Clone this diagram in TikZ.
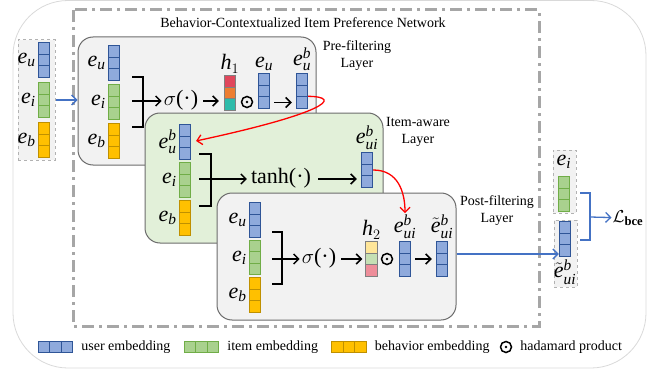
\documentclass[tikz,border=0pt]{standalone}
\usepackage{amsmath, amssymb}
\usepackage{fontspec}
\setmainfont{Liberation Serif}
\usepackage{xcolor}
\usepackage{tikz}
\usetikzlibrary{arrows.meta, positioning}

\definecolor{ublue}{HTML}{8FAADC}
\definecolor{ubluedk}{HTML}{2F5597}
\definecolor{igreen}{HTML}{A9D18E}
\definecolor{igreendk}{HTML}{70AD47}
\definecolor{borange}{HTML}{FFC000}
\definecolor{borangedk}{HTML}{BF9000}
\definecolor{hred}{HTML}{E0475C}
\definecolor{horange}{HTML}{ED7D31}
\definecolor{hteal}{HTML}{2EBBAA}
\definecolor{hyellow}{HTML}{FFE699}
\definecolor{hgreen}{HTML}{C5E0B4}
\definecolor{hpink}{HTML}{EE8E9A}
\definecolor{boxgray}{HTML}{F2F2F2}
\definecolor{boxgreen}{HTML}{E2F0D9}
\definecolor{linkblue}{HTML}{4472C4}

% one embedding column: name, x, y of middle cell, colour style
\newcommand{\embcol}[4]{%
  \foreach \k in {1,2,3}
    \node[cell,#4] (#1-\k) at (#2,{#3+(\k-2)*11.5}) {};}
% one embedding row for the legend
\newcommand{\embrow}[4]{%
  \foreach \k in {1,2,3}
    \node[cell,#4] (#1-\k) at ({#2+(\k-2)*11.5},#3) {};}
% embedding symbols in the serif italic
\newcommand{\ee}{\mathit{e}}
\newcommand{\te}{\tilde{\mathit{e}}}
\newcommand{\ix}[1]{\mathit{#1}}

\begin{document}
\begin{tikzpicture}[x=1pt, y=-1pt,
  cell/.style={draw, line width=0.9pt, minimum size=11.5pt, inner sep=0pt},
  ucol/.style={fill=ublue, draw=ubluedk},
  icol/.style={fill=igreen, draw=igreendk},
  bcol/.style={fill=borange, draw=borangedk},
  hcell/.style={cell, draw=gray},
  elab/.style={font=\fontsize{22}{24}\selectfont, inner sep=0pt},
  oplab/.style={font=\fontsize{22}{24}\selectfont, inner sep=1pt},
  losslab/.style={font=\fontsize{18}{20}\selectfont, inner sep=1pt},
  txt/.style={font=\fontsize{14}{17}\selectfont, align=center, inner sep=0pt},
  layerbox/.style={draw=gray!85!black, line width=1pt, rounded corners=15pt, fill=boxgray},
  embbox/.style={draw=gray!60, dashed, line width=1pt, fill=boxgray},
  arr/.style={line width=1.5pt, -{Straight Barb[length=5pt, width=10pt]}},
  brk/.style={line width=1.5pt},
  redarr/.style={red, line width=1.3pt, -{Straight Barb[length=5pt, width=10pt]}},
  bluearr/.style={linkblue, line width=1.3pt, -{Straight Barb[length=5pt, width=10pt]}},
  hprod/.style={circle, draw, line width=1.5pt, minimum size=11pt, inner sep=0pt,
    path picture={\fill (path picture bounding box.center) circle (1.4pt);}},
]
\useasboundingbox (0,0) rectangle (667,369);

% frames
\draw[gray!30, line width=0.8pt, rounded corners=55pt] (13,0.5) rectangle (646,368);
\draw[black!35, line width=3pt, dash pattern=on 12pt off 5pt on 3pt off 5pt] (73,10) rectangle (539,326);
\node[txt] (title) at (303,23) {Behavior-Contextualized Item Preference Network};

% input embeddings
\node[embbox, minimum width=37pt, minimum height=120pt] (inbox) at (36.5,100) {};
\embcol{in-u}{44}{60}{ucol}
\embcol{in-i}{44}{100}{icol}
\embcol{in-b}{44}{140}{bcol}
\node[elab, left=2pt of in-u-2] (in-eu) {$\ee_{\ix{u}}$};
\node[elab, left=2pt of in-i-2] (in-ei) {$\ee_{\ix{i}}$};
\node[elab, left=2pt of in-b-2] (in-eb) {$\ee_{\ix{b}}$};

% pre-filtering layer
\node[layerbox, minimum width=238pt, minimum height=128pt] (pre) at (197,101) {};
\node[txt] (pre-lbl) at (357,56) {Pre-filtering\\Layer};
\draw[bluearr] (inbox.east) -- (inbox.east -| pre.west);
\embcol{pre-u}{114}{63}{ucol}
\embcol{pre-i}{114}{102}{icol}
\embcol{pre-b}{114}{141}{bcol}
\node[elab, left=2pt of pre-u-2] (pre-eu) {$\ee_{\ix{u}}$};
\node[elab, left=2pt of pre-i-2] (pre-ei) {$\ee_{\ix{i}}$};
\node[elab, left=2pt of pre-b-2] (pre-eb) {$\ee_{\ix{b}}$};
\draw[brk] (132,77) -| (143,127) -- (132,127);
\coordinate (pre-join) at (132,101);
\node[oplab] (pre-sig) at (181,100) {$\sigma$(·)};
\draw[arr, shorten >=1pt] (pre-join) -- (pre-join -| pre-sig.west);
\foreach \k/\c in {1/hred,2/horange,3/hteal}
  \node[hcell, fill=\c] (h1-\k) at (230,{93+(\k-2)*11.5}) {};
\node[elab, above=2pt of h1-1] (h1-lbl) {$\ix{h}_1$};
\draw[arr, shorten <=4pt, shorten >=5pt] (pre-join -| pre-sig.east) -- (pre-join -| h1-3.west);
\node[hprod] (pre-had) at (247,102) {};
\embcol{pre-m}{264}{91}{ucol}
\node[elab, above=2pt of pre-m-1] (pre-m-lbl) {$\ee_{\ix{u}}$};
\embcol{pre-ub}{302}{91}{ucol}
\node[elab, above=2pt of pre-ub-1] (pre-ub-lbl) {$\ee_{\ix{u}}^{\ix{b}}$};
\draw[arr, shorten <=4pt, shorten >=4pt] (pre-m-3.east) -- (pre-ub-3.west);

% item-aware layer
\node[layerbox, fill=boxgreen, minimum width=238pt, minimum height=130pt] (item) at (264,178) {};
\node[txt] (item-lbl) at (418,132) {Item-aware\\Layer};
\embcol{it-ub}{185}{142}{ucol}
\embcol{it-i}{185}{180}{icol}
\embcol{it-b}{185}{218}{bcol}
\node[elab, left=2pt of it-ub-2] (it-eub) {$\ee_{\ix{u}}^{\ix{b}}$};
\node[elab, left=2pt of it-i-2] (it-ei) {$\ee_{\ix{i}}$};
\node[elab, left=2pt of it-b-2] (it-eb) {$\ee_{\ix{b}}$};
\draw[brk] (199,154) -| (211,206) -- (199,206);
\coordinate (it-join) at (199,179);
\node[oplab] (it-tanh) at (281,178) {tanh(·)};
\draw[arr, shorten >=3pt] (it-join) -- (it-join -| it-tanh.west);
\embcol{it-o}{367}{170}{ucol}
\node[elab, above=2pt of it-o-1] (it-o-lbl) {$\ee_{\ix{ui}}^{\ix{b}}$};
\draw[arr, shorten <=6pt, shorten >=4pt] (it-join -| it-tanh.east) -- (it-join -| it-o-3.west);
\draw[redarr, shorten >=5pt] (pre-ub-3.north east) .. controls (345,97) and (322,114) .. (it-ub-2.east);

% post-filtering layer
\node[layerbox, minimum width=239pt, minimum height=127pt] (post) at (336.5,256.5) {};
\node[txt] (post-lbl) at (497,211) {Post-filtering\\Layer};
\embcol{po-u}{255}{220}{ucol}
\embcol{po-i}{255}{257.5}{icol}
\embcol{po-b}{255}{295}{bcol}
\node[elab, left=2pt of po-u-2] (po-eu) {$\ee_{\ix{u}}$};
\node[elab, left=2pt of po-i-2] (po-ei) {$\ee_{\ix{i}}$};
\node[elab, left=2pt of po-b-2] (po-eb) {$\ee_{\ix{b}}$};
\draw[brk] (272,232) -| (282,284) -- (272,284);
\coordinate (po-join) at (272,259);
\node[oplab] (po-sig) at (319,258) {$\sigma$(·)};
\draw[arr, shorten >=1pt] (po-join) -- (po-join -| po-sig.west);
\foreach \k/\c in {1/hyellow,2/hgreen,3/hpink}
  \node[hcell, fill=\c] (h2-\k) at (371.5,{259+(\k-2)*11.5}) {};
\node[elab, above=2pt of h2-1] (h2-lbl) {$\ix{h}_2$};
\draw[arr, shorten <=4pt, shorten >=3pt] (po-join -| po-sig.east) -- (po-join -| h2-2.west);
\node[hprod] (po-had) at (387,259) {};
\embcol{po-o}{405}{259}{ucol}
\node[elab, above=2pt of po-o-1] (po-o-lbl) {$\ee_{\ix{ui}}^{\ix{b}}$};
\embcol{po-t}{442}{259}{ucol}
\node[elab, above=2pt of po-t-1] (po-t-lbl) {$\te_{\ix{ui}}^{\ix{b}}$};
\draw[arr, shorten <=4pt, shorten >=4pt] (po-o-2.east) -- (po-t-2.west);
\draw[redarr, shorten >=1pt] (it-o-2.east) .. controls +(25,0) and +(0,-22) .. (po-o-lbl.north);

% outputs and loss
\node[embbox, minimum width=23pt, minimum height=63pt] (out-top) at (564.5,181.5) {};
\node[elab] (out-ei) at (564,162) {$\ee_{\ix{i}}$};
\embcol{out-i}{564}{194}{icol}
\node[embbox, minimum width=23pt, minimum height=67pt] (out-bot) at (565.5,253.5) {};
\embcol{out-u}{565}{239}{ucol}
\node[elab] (out-et) at (565,272) {$\te_{\ix{ui}}^{\ix{b}}$};
\draw[bluearr] ([yshift=2.5pt]post.east) -- ([yshift=2.5pt]post.east -| out-u-3.west);
\draw[brk, linkblue] (580,193) -| (590,240) -- (580,240);
\coordinate (out-join) at (590,217);
\node[losslab] (loss) at (628,218) {$\mathcal{L}_{\mathbf{bce}}$};
\draw[bluearr] (out-join) -- (loss);

% legend
\embrow{lg-u}{55.5}{347}{ucol}
\node[txt, right=8pt of lg-u-3] (lg-u-txt) {user embedding};
\embrow{lg-i}{201.5}{347}{icol}
\node[txt, right=8pt of lg-i-3] (lg-i-txt) {item embedding};
\embrow{lg-b}{349}{347}{bcol}
\node[txt, right=8pt of lg-b-3] (lg-b-txt) {behavior embedding};
\node[hprod] (lg-had) at (506,347) {};
\node[txt, right=8pt of lg-had] (lg-had-txt) {hadamard product};
\end{tikzpicture}
\end{document}
